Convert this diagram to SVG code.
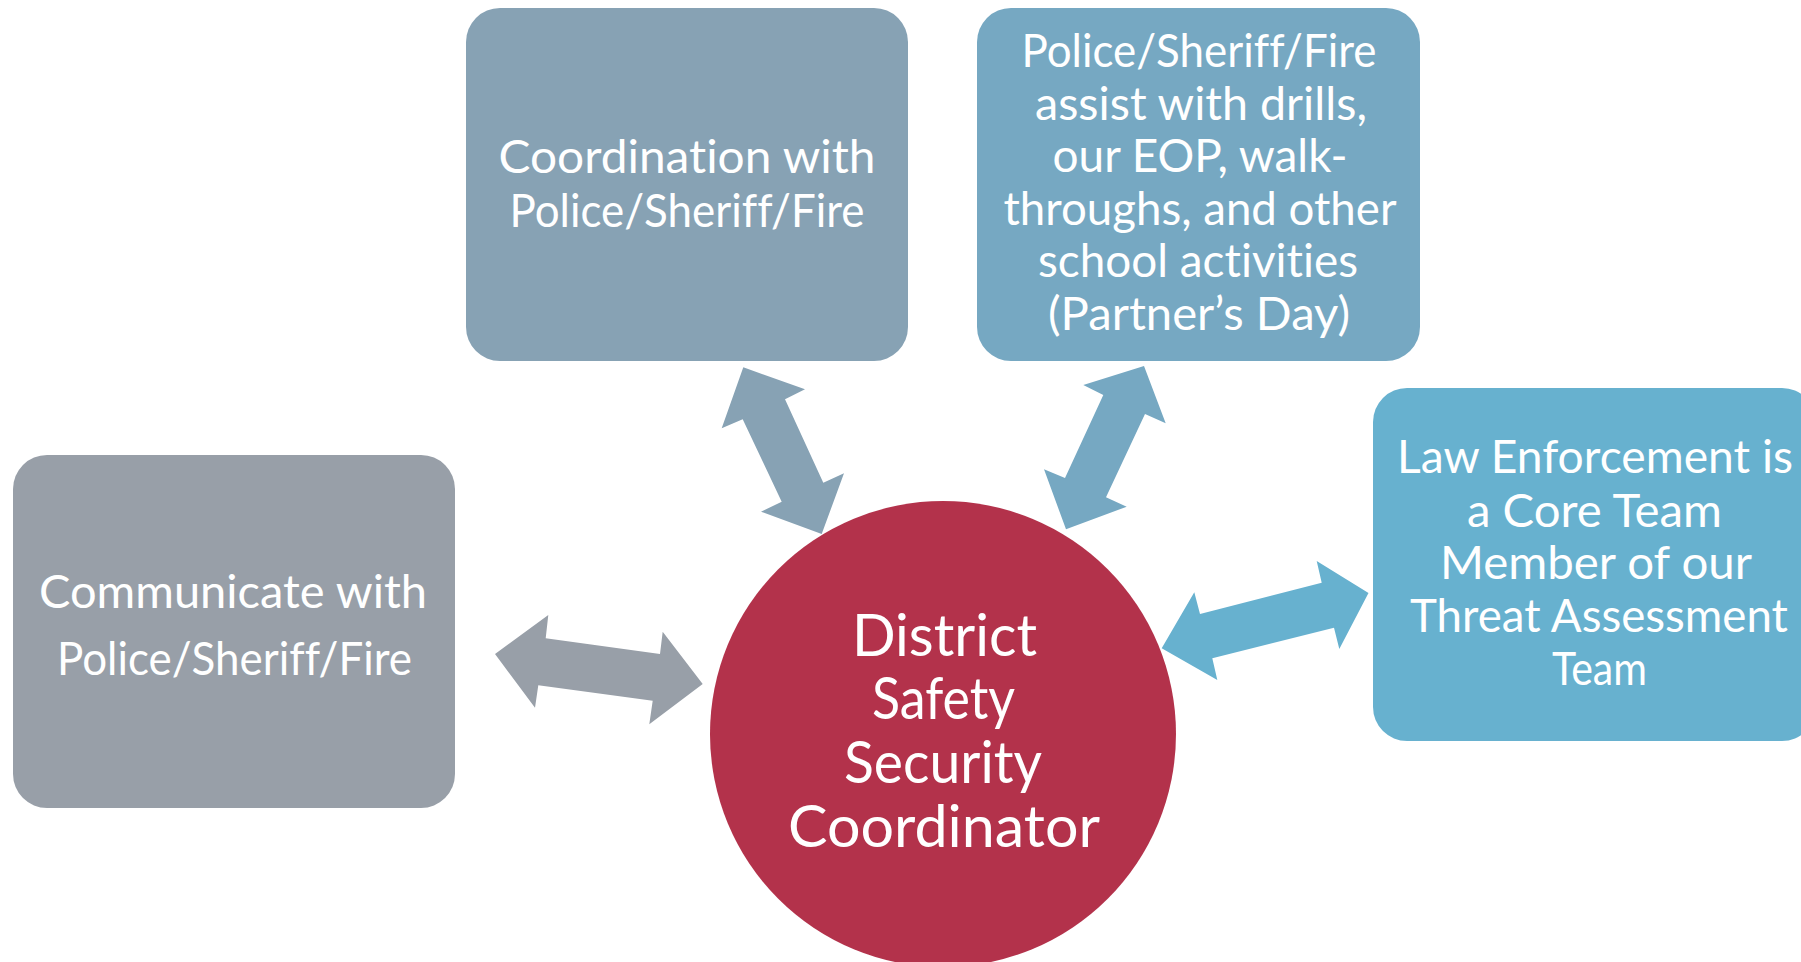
<svg xmlns="http://www.w3.org/2000/svg" width="1801" height="962" viewBox="0 0 1801 962">
<style>
.t{font-family:Lato,"Open Sans","Liberation Sans",sans-serif;font-size:46px;fill:#fff;text-anchor:middle;font-variant-ligatures:none;font-feature-settings:"liga" 0,"clig" 0}
.c{font-size:58px}
</style>
<rect width="1801" height="962" fill="#fff"/>
<g id="connectors">
<polygon fill="#87A2B4" points="743.3,367.3 805,389.3 785,399.3 823.3,482.7 844,473.3 821.7,534 761,511.7 781.7,501.7 742.7,419.3 721.7,428.3"/>
<polygon fill="#76A8C2" points="1144,366 1165.7,423.3 1145,414 1106,497.3 1126.7,506.7 1066,529.3 1044,469.3 1065,478 1103.3,395 1083.3,385"/>
<polygon fill="#989FA8" points="495,654 548.3,615 545.7,638.3 660,654 662.7,631.7 702.7,684 649.3,724.3 652.7,700.7 538.3,685.3 535,707.7"/>
<polygon fill="#67B1CF" points="1161.7,648.3 1194.3,592.3 1200,614 1321.7,582.7 1316.7,561 1368.5,593 1339.3,649 1334,627.7 1212.3,658.3 1217.3,680"/>
</g>
<g id="box-coordination">
<rect x="466" y="8" width="442" height="353" rx="34" fill="#87A2B4"/>
<text class="t" x="687" y="173" textLength="377" lengthAdjust="spacingAndGlyphs">Coordination with</text>
<text class="t" x="687" y="227" textLength="355" lengthAdjust="spacingAndGlyphs">Police/Sheriff/Fire</text>
</g>
<g id="box-assist">
<rect x="977" y="8" width="443" height="353" rx="34" fill="#76A8C2"/>
<text class="t" x="1199" y="67" textLength="355" lengthAdjust="spacingAndGlyphs">Police/Sheriff/Fire</text>
<text class="t" x="1201" y="119.6" textLength="332" lengthAdjust="spacingAndGlyphs">assist with drills,</text>
<text class="t" x="1200" y="172" textLength="295" lengthAdjust="spacingAndGlyphs">our EOP, walk-</text>
<text class="t" x="1200" y="224.8" textLength="393" lengthAdjust="spacingAndGlyphs">throughs, and other</text>
<text class="t" x="1198" y="277.4" textLength="320" lengthAdjust="spacingAndGlyphs">school activities</text>
<text class="t" x="1199" y="330" textLength="302" lengthAdjust="spacingAndGlyphs">(Partner’s Day)</text>
</g>
<g id="box-law">
<rect x="1373" y="388" width="443" height="353" rx="34" fill="#67B1CF"/>
<text class="t" x="1595" y="473" textLength="396" lengthAdjust="spacingAndGlyphs">Law Enforcement is</text>
<text class="t" x="1594.5" y="527" textLength="255" lengthAdjust="spacingAndGlyphs">a Core Team</text>
<text class="t" x="1596" y="579" textLength="312" lengthAdjust="spacingAndGlyphs">Member of our</text>
<text class="t" x="1599" y="632" textLength="378" lengthAdjust="spacingAndGlyphs">Threat Assessment</text>
<text class="t" x="1599.5" y="685" textLength="95" lengthAdjust="spacingAndGlyphs">Team</text>
</g>
<g id="box-communicate">
<rect x="13" y="455" width="442" height="353" rx="34" fill="#989FA8"/>
<text class="t" x="233" y="608" textLength="388" lengthAdjust="spacingAndGlyphs">Communicate with</text>
<text class="t" x="234.5" y="675" textLength="355" lengthAdjust="spacingAndGlyphs">Police/Sheriff/Fire</text>
</g>
<g id="coordinator">
<circle cx="943" cy="734" r="233" fill="#B3324B"/>
<text class="t c" x="944.5" y="656" textLength="185" lengthAdjust="spacingAndGlyphs">District</text>
<text class="t c" x="943.5" y="719" textLength="143" lengthAdjust="spacingAndGlyphs">Safety</text>
<text class="t c" x="943" y="783" textLength="198" lengthAdjust="spacingAndGlyphs">Security</text>
<text class="t c" x="944" y="847" textLength="312" lengthAdjust="spacingAndGlyphs">Coordinator</text>
</g>
</svg>
